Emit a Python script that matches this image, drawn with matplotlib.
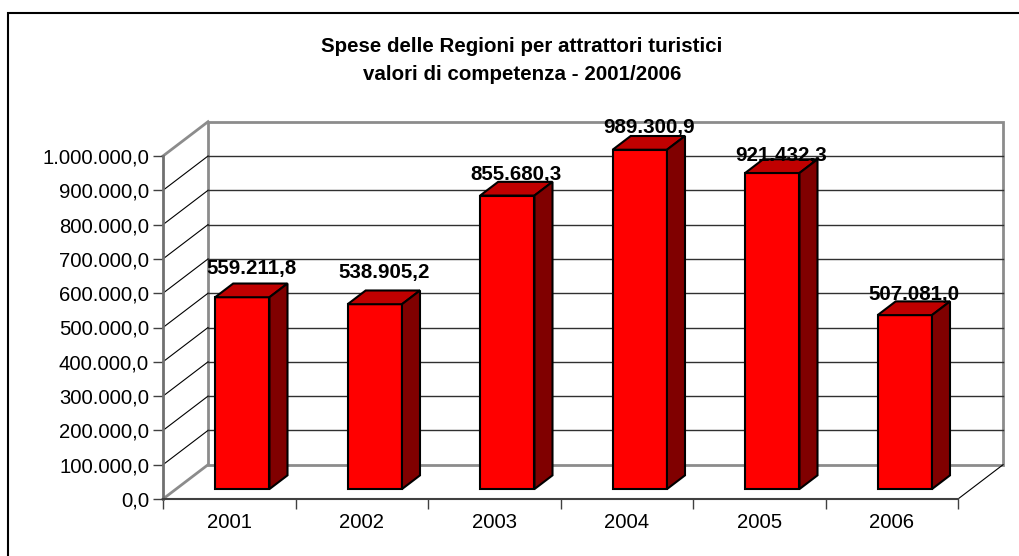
import matplotlib
matplotlib.use("Agg")
import matplotlib.pyplot as plt
from matplotlib.patches import Polygon, Rectangle

# Dati: spese delle Regioni per attrattori turistici (valori di competenza)
anni = ["2001", "2002", "2003", "2004", "2005", "2006"]
spese = [559211.8, 538905.2, 855680.3, 989300.9, 921432.3, 507081.0]
y_ticks = [0, 100000, 200000, 300000, 400000, 500000, 600000, 700000, 800000, 900000, 1000000]

titolo_1 = "Spese delle Regioni per attrattori turistici"
titolo_2 = "valori di competenza - 2001/2006"

# piccoli spostamenti verticali delle etichette (punti), come nell'originale
label_dy = [7, 9, 1.5, 2, -1.5, 0.7]


def fmt_it(v):
    # formato italiano: 1.000.000,0
    s = "{:,.1f}".format(v)
    return s.replace(",", "X").replace(".", ",").replace("X", ".")


plt.rcParams["font.family"] = ["Liberation Sans", "DejaVu Sans"]

W, H = 1019, 556
fig = plt.figure(figsize=(W / 100, H / 100), dpi=100)
fig.patch.set_facecolor("white")

# cornice esterna
fig.add_artist(Rectangle((8 / W, -0.1), 1.1, 1 - 13 / H + 0.1, transform=fig.transFigure,
                         fill=False, ec="black", lw=1.5))

fig.text(522 / W, 1 - 52 / H, titolo_1, ha="center", va="baseline", fontsize=14.8,
         fontweight="bold")
fig.text(522 / W, 1 - 80 / H, titolo_2, ha="center", va="baseline", fontsize=14.8,
         fontweight="bold")

ax = fig.add_axes([163 / W, 1 - 499 / H, (958 - 163) / W, (499 - 156) / H])
ax.set_xlim(0, len(anni))
ax.set_ylim(0, 1000000)
ax.patch.set_alpha(0)

# profondita' della scena (in unita' dati)
DX = 0.34
DY = 100000
n = len(anni)
ymax = y_ticks[-1]
grey = "#8c8c8c"

# pareti
ax.add_patch(Rectangle((DX, DY), n, ymax, fill=False, ec=grey, lw=2, clip_on=False, zorder=1))
ax.plot([0, DX], [ymax, ymax + DY], color=grey, lw=2, clip_on=False, zorder=1)
ax.plot([0, DX], [0, DY], color=grey, lw=2, clip_on=False, zorder=1)
ax.plot([n, n + DX], [0, DY], color="black", lw=0.8, clip_on=False, zorder=1)

# griglia: diagonali sulla parete sinistra + linee sulla parete di fondo
for t in y_ticks[1:-1]:
    ax.plot([0, DX], [t, t + DY], color="black", lw=0.8, clip_on=False, zorder=1)
    ax.plot([DX, n + DX], [t + DY, t + DY], color="#303030", lw=1, clip_on=False, zorder=1)

# barre 3D
w = 0.41
f = 0.29   # posizione della faccia frontale nella profondita'
b = 0.40   # profondita' della barra
ox, oy = f * DX, f * DY
bx, by = b * DX, b * DY
for i, v in enumerate(spese):
    x0 = i + 0.5 - w / 2 + ox
    x1 = x0 + w
    y0 = oy
    y1 = oy + v
    front = Polygon([(x0, y0), (x1, y0), (x1, y1), (x0, y1)], closed=True,
                    fc="#ff0000", ec="black", lw=1.5, clip_on=False, zorder=3)
    top = Polygon([(x0, y1), (x1, y1), (x1 + bx, y1 + by), (x0 + bx, y1 + by)], closed=True,
                  fc="#c00000", ec="black", lw=1.5, clip_on=False, zorder=3)
    side = Polygon([(x1, y0), (x1 + bx, y0 + by), (x1 + bx, y1 + by), (x1, y1)], closed=True,
                   fc="#800000", ec="black", lw=1.5, clip_on=False, zorder=3)
    for p in (front, top, side):
        ax.add_patch(p)
    ax.annotate(fmt_it(v), (i + 0.5 + ox + bx / 2, y1 + by), xytext=(0, label_dy[i]),
                textcoords="offset points", ha="center", va="baseline",
                fontsize=14.8, fontweight="bold", zorder=5, annotation_clip=False)

# assi
for s in ("top", "right"):
    ax.spines[s].set_visible(False)
ax.spines["left"].set_color("#707070")
ax.spines["left"].set_linewidth(2)
ax.spines["bottom"].set_color("#404040")
ax.spines["bottom"].set_linewidth(1.5)

ax.set_yticks(y_ticks)
ax.set_yticklabels([fmt_it(t) for t in y_ticks])
ax.tick_params(axis="y", direction="out", length=7, width=1, color="#404040",
               labelsize=14.6, pad=3)

ax.set_xticks([i + 0.5 for i in range(n)])
ax.set_xticklabels(anni)
ax.set_xticks(range(n + 1), minor=True)
ax.tick_params(axis="x", which="major", length=0, labelsize=14.6, pad=10)
ax.tick_params(axis="x", which="minor", direction="out", length=7, width=1, color="#404040")

fig.savefig("out.png", dpi=100)
